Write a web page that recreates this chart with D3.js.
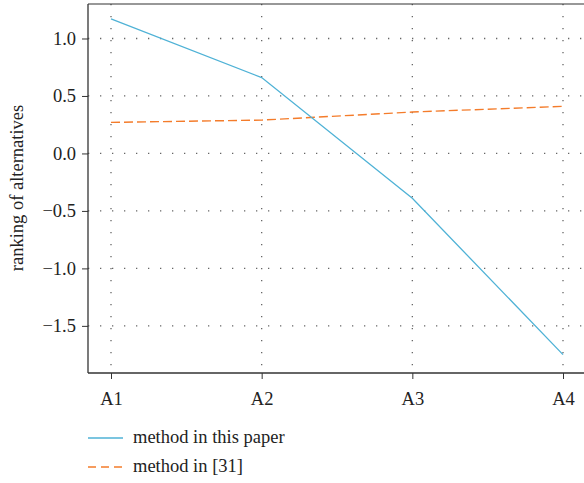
<!DOCTYPE html>
<html>
<head>
<meta charset="utf-8">
<script src="https://cdn.jsdelivr.net/npm/d3@7"></script>
<style>
  body { margin: 0; background: #fff; }
  svg text { font-family: "Liberation Serif", "DejaVu Serif", serif !important; fill: #222; font-size: 18.5px; }
</style>
</head>
<body>
<div id="chart"></div>
<script>
var alternatives = ["A1", "A2", "A3", "A4"];
var thisPaper = [1.17, 0.66, -0.39, -1.75];
var method31 = [0.27, 0.29, 0.36, 0.41];
var yTicks = [1.0, 0.5, 0.0, -0.5, -1.0, -1.5];
var seriesNames = ["method in this paper", "method in [31]"];

var width = 584, height = 483;
var margin = { top: 4, right: 0, bottom: 110, left: 88 };

var svg = d3.select("#chart")
  .append("svg")
  .attr("width", width)
  .attr("height", height);

var x = d3.scalePoint()
  .domain(alternatives)
  .range([111, 563]);

var y = d3.scaleLinear()
  .domain([-1.91, 1.30])
  .range([height - margin.bottom, margin.top]);

var plotBottom = height - margin.bottom;

// grid
svg.append("g")
  .selectAll("line")
  .data(yTicks)
  .enter()
  .append("line")
  .attr("x1", margin.left)
  .attr("x2", width)
  .attr("y1", function (d) { return y(d); })
  .attr("y2", function (d) { return y(d); })
  .attr("stroke", "#666")
  .attr("stroke-width", 1.3)
  .attr("stroke-dasharray", "1.3,10.7");

svg.append("g")
  .selectAll("line")
  .data(alternatives)
  .enter()
  .append("line")
  .attr("x1", function (d) { return x(d); })
  .attr("x2", function (d) { return x(d); })
  .attr("y1", margin.top)
  .attr("y2", plotBottom)
  .attr("stroke", "#666")
  .attr("stroke-width", 1.3)
  .attr("stroke-dasharray", "1.3,10.7");

// frame
svg.append("line")
  .attr("x1", margin.left).attr("x2", width)
  .attr("y1", margin.top).attr("y2", margin.top)
  .attr("stroke", "#333").attr("stroke-width", 1.2);

// axes
var yAxis = svg.append("g")
  .attr("transform", "translate(" + margin.left + ",0)")
  .attr("font-size", null)
  .call(d3.axisLeft(y).tickValues(yTicks).tickSize(6).tickPadding(6)
    .tickFormat(function (d) { return d3.format(".1f")(d).replace("-", "\u2212"); }));
yAxis.select(".domain").attr("stroke", "#333").attr("stroke-width", 1.3)
  .attr("d", "M0," + margin.top + "V" + plotBottom);
yAxis.selectAll(".tick line").attr("stroke", "#333");
yAxis.selectAll("text").attr("fill", "#222");

var xAxis = svg.append("g")
  .attr("transform", "translate(0," + plotBottom + ")")
  .call(d3.axisBottom(x).tickSize(6).tickPadding(13));
xAxis.select(".domain").attr("stroke", "#333").attr("stroke-width", 1.3)
  .attr("d", "M" + margin.left + ",0H" + width);
xAxis.selectAll(".tick line").attr("stroke", "#333");
xAxis.selectAll("text").attr("fill", "#222");

svg.append("text")
  .attr("transform", "rotate(-90)")
  .attr("x", -188)
  .attr("y", 23)
  .attr("text-anchor", "middle")
  .text("ranking of alternatives");

// lines
var line = d3.line()
  .x(function (d, i) { return x(alternatives[i]); })
  .y(function (d) { return y(d); });

svg.append("path")
  .datum(method31)
  .attr("d", line)
  .attr("fill", "none")
  .attr("stroke", "#f47c2b")
  .attr("stroke-width", 1.4)
  .attr("stroke-dasharray", "9,4");

svg.append("path")
  .datum(thisPaper)
  .attr("d", line)
  .attr("fill", "none")
  .attr("stroke", "#4fb2d6")
  .attr("stroke-width", 1.3);

// legend
var legend = svg.append("g");
var legendStyles = [
  { color: "#4fb2d6", dash: null },
  { color: "#f47c2b", dash: "8,5" }
];
seriesNames.forEach(function (name, i) {
  var ly = 438 + i * 29;
  legend.append("line")
    .attr("x1", 88).attr("x2", 123)
    .attr("y1", ly).attr("y2", ly)
    .attr("stroke", legendStyles[i].color)
    .attr("stroke-width", 1.3)
    .attr("stroke-dasharray", legendStyles[i].dash);
  legend.append("text")
    .attr("x", 133)
    .attr("y", ly + 5)
    .text(name);
});
</script>
</body>
</html>
